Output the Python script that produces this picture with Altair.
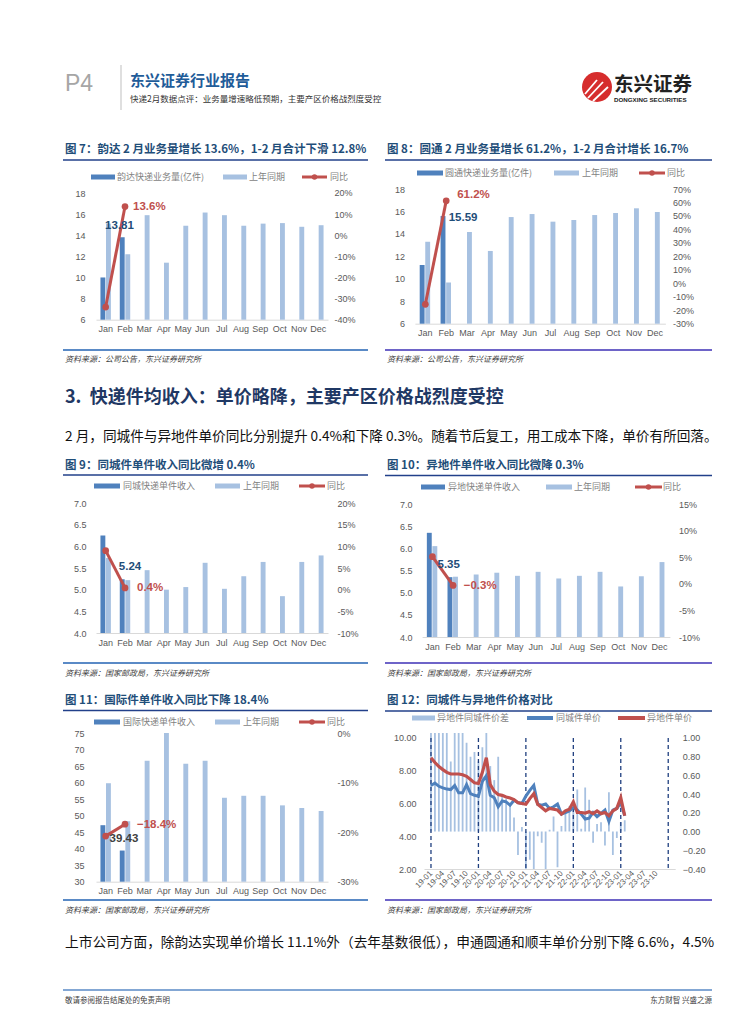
import json
import altair as alt
import pandas as pd

# ---------------- data ----------------
MONTHS = ["Jan", "Feb", "Mar", "Apr", "May", "Jun", "Jul", "Aug", "Sep", "Oct", "Nov", "Dec"]

# Fig 7: Yunda volume (100m parcels)
c7_cur = [10.0, 13.81]
c7_prev = [15.1, 12.2, 15.9, 11.4, 14.9, 16.15, 15.9, 14.9, 15.1, 15.15, 14.8, 14.95]
c7_yoy = [-34.0, 13.6]
# Fig 8: YTO volume
c8_cur = [11.23, 15.59]
c8_prev = [13.3, 9.67, 14.17, 12.48, 15.5, 15.77, 15.09, 15.24, 15.68, 15.86, 16.28, 15.95]
c8_yoy = [-15.6, 61.2]
# Fig 9: intra-city unit revenue
c9_cur = [6.25, 5.24]
c9_prev = [5.73, 5.22, 5.45, 5.0, 5.06, 5.62, 5.02, 5.31, 5.64, 4.85, 5.64, 5.79]
c9_yoy = [9.0, 0.4]
# Fig 10: inter-city unit revenue
c10_cur = [6.35, 5.35]
c10_prev = [6.05, 5.36, 5.41, 5.45, 5.38, 5.47, 5.32, 5.38, 5.47, 5.14, 5.37, 5.69]
c10_yoy = [5.1, -0.3]
# Fig 11: international unit revenue
c11_cur = [47.1, 39.43]
c11_prev = [59.8, 48.3, 66.6, 75.0, 65.7, 66.6, 55.4, 56.0, 56.0, 53.1, 52.3, 51.4]
c11_yoy = [-20.8, -18.4]

# Fig 12: monthly 2019-01 .. 2023-02
c12_ticks = ["19-01", "19-04", "19-07", "19-10", "20-01", "20-04", "20-07", "20-10",
             "21-01", "21-04", "21-07", "21-10", "22-01", "22-04", "22-07", "22-10",
             "23-01", "23-04", "23-07", "23-10"]
c12_year_marks = [0, 12, 24, 36, 48, 60]
c12_same = [7.1, 7.25, 7.05, 6.95, 6.88, 6.85, 7.1, 6.65, 6.65, 7.15, 6.6, 6.5,
            6.45, 7.35, 7.7, 6.5, 6.35, 5.8, 6.15, 6.1, 5.9, 6.2, 6.05, 6.0,
            6.45, 6.8, 7.1, 5.95, 5.9, 5.97, 5.7, 5.8, 5.97, 5.35, 5.45, 5.55,
            5.75, 5.6, 5.35, 5.05, 5.1, 5.45, 5.2, 5.4, 5.6, 4.9, 5.6, 5.7,
            6.05, 5.25]
c12_diff = [8.8, 8.5, 8.25, 8.07, 7.9, 7.8, 7.8, 7.8, 7.76, 7.66, 7.46, 7.26,
            7.22, 7.9, 8.8, 7.15, 6.75, 6.55, 6.5, 6.4, 6.34, 6.24, 6.05, 6.0,
            5.95, 6.3, 6.6, 5.95, 5.76, 5.56, 5.7, 5.65, 5.6, 5.35, 5.55, 5.65,
            6.1, 5.45, 5.45, 5.42, 5.5, 5.38, 5.55, 5.38, 5.45, 5.25, 5.55, 5.7,
            6.35, 5.25]
c12_gap = [1.7, 1.25, 1.2, 1.15, 1.1, 0.75, 1.15, 1.15, 1.1, 0.95, 0.8, 0.85,
           0.75, 0.9, 1.1, 0.7, 0.55, 0.8, 0.4, 0.35, 0.3, 0.15, -0.25, 0.05,
           -0.45, -0.3, -0.5, -0.05, -0.12, -0.4, 0.02, 0.16, -0.38, 0.06, 0.2, 0.27,
           0.3, 0.45, 0.03, 0.47, 0.34, -0.12, 0.08, 0.1, -0.15, 0.42, -0.25, -0.07,
           0.1, 0.12]

# ---------------- style ----------------
DARK = "#4F81BD"
LIGHT = "#A7C1E1"
RED = "#C0504D"
LBLUE = "#1F4E79"
NAVY = "#22408A"
STEEL = "#5A8AC6"
PURPLE = "#6E64C8"
AXF = "Liberation Sans"
CJK = "Noto Sans CJK SC"
OX, OY = 96.0, 8.0


def axis_x():
    return alt.Axis(title=None, labelAngle=0, labelFont=AXF, labelFontSize=9, labelColor="#595959",
                    labelPadding=5, ticks=False, tickSize=0, grid=False, domain=True,
                    domainColor="#D9D9D9", domainWidth=1, labelOverlap=False)


def axis_y(orient, values, fmt=None, expr=None, pad=8):
    kw = dict(title=None, orient=orient, values=values, labelFont=AXF, labelFontSize=9,
              labelColor="#595959", labelPadding=pad, ticks=False, tickSize=0, grid=False,
              domain=False, labelOverlap=False)
    if fmt:
        kw["format"] = fmt
    if expr:
        kw["labelExpr"] = expr
    return alt.Axis(**kw)


def bar_line(cur, prev, yoy, w, h, ydom, yvals, yfmt, rdom, rvals, lpad, rpad,
             bdx, bdy, balign, bcolor, ydx, ydy, xrange=None):
    rows = []
    for i, m in enumerate(MONTHS):
        if i < len(cur):
            rows.append({"month": m, "series": "cur", "value": cur[i]})
        rows.append({"month": m, "series": "prev", "value": prev[i]})
    bdf = pd.DataFrame(rows)
    ldf = pd.DataFrame({"month": MONTHS[:len(yoy)], "yoy": yoy})
    fb = pd.DataFrame({"month": [MONTHS[1]], "value": [cur[1]]})
    fy = pd.DataFrame({"month": [MONTHS[1]], "yoy": [yoy[1]]})
    skw = dict(domain=MONTHS, paddingInner=0.46, paddingOuter=0.23)
    if xrange is not None:
        skw["range"] = xrange
    xs = alt.X("month:N", scale=alt.Scale(**skw), axis=axis_x())
    ysc = alt.Scale(domain=ydom, nice=False, zero=False)
    rsc = alt.Scale(domain=rdom, nice=False, zero=False)
    bars = alt.Chart(bdf).mark_bar().encode(
        x=xs,
        xOffset=alt.XOffset("series:N", scale=alt.Scale(domain=["cur", "prev"], paddingInner=0.12, paddingOuter=0)),
        y=alt.Y("value:Q", scale=ysc, axis=axis_y("left", yvals, fmt=yfmt, pad=lpad)),
        y2=alt.datum(ydom[0]),
        color=alt.Color("series:N", scale=alt.Scale(domain=["cur", "prev"], range=[DARK, LIGHT]), legend=None),
    )
    line = alt.Chart(ldf).mark_line(
        color=RED, strokeWidth=3,
        point=alt.OverlayMarkDef(filled=True, size=45, color=RED, opacity=1),
    ).encode(
        x=xs,
        y=alt.Y("yoy:Q", scale=rsc, axis=axis_y("right", rvals, expr="datum.value + '%'", pad=rpad)),
    )
    blab = alt.Chart(fb).mark_text(font=AXF, fontWeight="bold", fontSize=11.5, color=bcolor,
                                   align=balign, baseline="middle", dx=bdx, dy=bdy).encode(
        x=xs, y=alt.Y("value:Q", scale=ysc, axis=None), text=alt.Text("value:Q", format=".2f"))
    ylab = alt.Chart(fy).transform_calculate(lab="format(datum.yoy, '.1f') + '%'").mark_text(
        font=AXF, fontWeight="bold", fontSize=11.5, color=RED, align="left", baseline="middle",
        dx=ydx, dy=ydy).encode(x=xs, y=alt.Y("yoy:Q", scale=rsc, axis=None), text="lab:N")
    return alt.layer(bars, line, blab, ylab).resolve_scale(y="independent").properties(width=w, height=h)


def empty(w, h):
    return alt.Chart(pd.DataFrame({"a": [0]})).mark_point(opacity=0).encode(
        x=alt.value(0), y=alt.value(0)).properties(width=w, height=h)


# ---------------- charts ----------------
c7 = bar_line(c7_cur, c7_prev, c7_yoy, 232, 130.7, [6, 18.379], [6, 8, 10, 12, 14, 16, 18], None,
              [-40, 21.894], [-40, -30, -20, -10, 0, 10, 20], 11, 6, -5.5, -11, "center", LBLUE, 8, 0)
# right column cells start at page x 423.6; shift plot areas with explicit ranges
c8 = bar_line(c8_cur, c8_prev, c8_yoy, 241.4, 134.7, [6, 18], [6, 8, 10, 12, 14, 16, 18], None,
              [-30, 70], [-30, -20, -10, 0, 10, 20, 30, 40, 50, 60, 70], 19.6, 7, 2.5, 2, "left", LBLUE, 11, -6,
              xrange=[-9.1, 241.4])
c9 = bar_line(c9_cur, c9_prev, c9_yoy, 232, 130, [4, 7], [4.0, 4.5, 5.0, 5.5, 6.0, 6.5, 7.0], ".1f",
              [-10, 20], [-10, -5, 0, 5, 10, 15, 20], 10, 9, 5, -12, "center", LBLUE, 12, 0)
c10 = bar_line(c10_cur, c10_prev, c10_yoy, 245.9, 134, [4, 7.0226], [4.0, 4.5, 5.0, 5.5, 6.0, 6.5, 7.0], ".1f",
               [-10, 15.188], [-10, -5, 0, 5, 10, 15], 11.9, 8.5, -4.4, -12, "center", LBLUE, 10.6, 1,
               xrange=[-1.9, 245.9])
c11 = bar_line(c11_cur, c11_prev, c11_yoy, 232, 148.7, [30, 75], [30, 35, 40, 45, 50, 55, 60, 65, 70, 75], None,
               [-30, 0], [-30, -20, -10, 0], 12, 9, -1, -12, "center", "#404040", 12, 1)

# Fig 12
df12 = pd.DataFrame({"m": list(range(len(c12_same))), "same": c12_same, "diff": c12_diff, "gap": c12_gap})
yr12 = pd.DataFrame({"m": c12_year_marks})
lexpr = json.dumps(c12_ticks) + "[datum.value / 3]"
x12 = alt.X("m:Q", scale=alt.Scale(domain=[-0.5, 60.5], nice=False, zero=False),
            axis=alt.Axis(title=None, values=list(range(0, 60, 3)), labelExpr=lexpr, labelAngle=315,
                          labelAlign="right", labelBaseline="middle", labelFont=AXF, labelFontSize=8,
                          labelColor="#595959", labelPadding=3, ticks=False, tickSize=0, grid=False,
                          domain=True, domainColor="#D9D9D9", labelOverlap=False, labelFlush=False))
lsc12 = alt.Scale(domain=[2, 10.305], nice=False, zero=False)
rsc12 = alt.Scale(domain=[-0.4, 1.0534], nice=False, zero=False)
bars12 = alt.Chart(df12).mark_bar(width=1.8, clip=True, color=LIGHT).encode(
    x=x12,
    y=alt.Y("gap:Q", scale=rsc12, axis=axis_y("right", [-0.4, -0.2, 0.0, 0.2, 0.4, 0.6, 0.8, 1.0], fmt=".2f", pad=7)),
    y2=alt.datum(0),
)
rules12 = alt.Chart(yr12).mark_rule(color="#1F3F7F", strokeWidth=1.3, strokeDash=[4, 3]).encode(
    x=x12, y=alt.YDatum(10, scale=lsc12, axis=None), y2=alt.Y2Datum(2))
blue12 = alt.Chart(df12).mark_line(color=DARK, strokeWidth=3).encode(
    x=x12, y=alt.Y("same:Q", scale=lsc12, axis=axis_y("left", [2, 4, 6, 8, 10], fmt=".2f", pad=8)))
red12 = alt.Chart(df12).mark_line(color=RED, strokeWidth=3.2).encode(
    x=x12, y=alt.Y("diff:Q", scale=lsc12, axis=None))
c12 = alt.layer(bars12, rules12, blue12, red12).resolve_scale(y="independent").properties(width=251.2, height=136)


# ---------------- page decorations (page pixel coords) ----------------
def T(x, y, t, s, c):
    return {"x": x - OX, "y": y - OY, "t": t, "s": s, "c": c}


def R(x1, x2, y1, y2, c, w):
    return {"x": x1 - OX, "x2": x2 - OX, "y": y1 - OY, "y2": y2 - OY, "c": c, "w": w}


def P(x, y, s, c):
    return {"x": x - OX, "y": y - OY, "s": s, "c": c}


titles = [
    (65, 147, "图 7：韵达 2 月业务量增长 13.6%，1-2 月合计下滑 12.8%"),
    (387, 147, "图 8：圆通 2 月业务量增长 61.2%，1-2 月合计增长 16.7%"),
    (65, 462.5, "图 9：同城件单件收入同比微增 0.4%"),
    (387, 462.5, "图 10：异地件单件收入同比微降 0.3%"),
    (65, 698, "图 11：国际件单件收入同比下降 18.4%"),
    (387, 698, "图 12：同城件与异地件价格对比"),
]
bold_items = [T(130, 78, "东兴证券行业报告", 15, "#1F5C99"),
              T(614, 82, "东兴证券", 19.5, "#222222"),
              T(65, 395, "3.\u00a0\u00a0快递件均收入：单价略降，主要产区价格战烈度受控", 18, "#1F3864")]
bold_items += [T(x, y, t, 11.5, LBLUE) for x, y, t in titles]

LG = "#7F7F7F"
legend_txt = [
    (117, 174, "韵达快递业务量(亿件)"), (249, 174, "上年同期"), (330, 174, "同比"),
    (445, 170, "圆通快递业务量(亿件)"), (582, 170, "上年同期"), (667, 170, "同比"),
    (123, 483, "同城快递单件收入"), (243, 483, "上年同期"), (327, 483, "同比"),
    (448, 484, "异地快递单件收入"), (574, 484, "上年同期"), (663, 484, "同比"),
    (123, 719, "国际快递单件收入"), (243, 719, "上年同期"), (327, 719, "同比"),
    (437, 715, "异地件同城件价差"), (556, 715, "同城件单价"), (647, 715, "异地件单价"),
]
normal_items = [T(130, 96, "快递2月数据点评：业务量增速略低预期，主要产区价格战烈度受控", 8.5, "#333333"),
                T(65, 434, "2 月，同城件与异地件单价同比分别提升 0.4%和下降 0.3%。随着节后复工，用工成本下降，单价有所回落。", 13.65, "#111111"),
                T(65, 940, "上市公司方面，除韵达实现单价增长 11.1%外（去年基数很低），申通圆通和顺丰单价分别下降 6.6%，4.5%", 13.7, "#111111"),
                T(65, 998, "敬请参阅报告结尾处的免责声明", 7.5, "#404040")]
normal_items += [T(x, y, t, 9, LG) for x, y, t in legend_txt]

src1 = "资料来源：公司公告，东兴证券研究所"
src2 = "资料来源：国家邮政局，东兴证券研究所"
italic_items = [T(65, 357, src1, 8, "#404040"), T(387, 357, src1, 8, "#404040"),
                T(65, 671, src2, 8, "#404040"), T(387, 671, src2, 8, "#404040"),
                T(65, 908, src2, 8, "#404040"), T(387, 908, src2, 8, "#404040")]
right_items = [T(712, 998, "东方财智 兴盛之源", 7.5, "#404040")]
p4_items = [T(65, 81, "P4", 23, "#A6A6A6")]
latin_bold_items = [T(614, 97, "DONGXING SECURITIES", 6.2, "#222222")]

rules = [
    R(8.5, 16, 8.5, 8.5, "#FFFFFF", 1),
    R(121, 121, 62, 107, "#BFBFBF", 1),
    R(63, 368, 157, 157, NAVY, 1.5), R(385, 712, 157, 157, NAVY, 1.5),
    R(63, 368, 472, 472, NAVY, 1.5), R(385, 712, 472.5, 472.5, NAVY, 1.5),
    R(63, 368, 707.5, 707.5, NAVY, 1.5), R(385, 712, 708, 708, NAVY, 1.5),
    R(63, 368, 347, 347, STEEL, 2), R(385, 712, 347, 347, PURPLE, 2),
    R(63, 368, 660, 660, STEEL, 2), R(385, 712, 660, 660, PURPLE, 2),
    R(63, 368, 897, 897, STEEL, 2), R(385, 712, 897, 897, PURPLE, 2),
    R(63, 712, 987, 987, STEEL, 1.5),
    # legend swatches
    R(91, 115, 174, 174, DARK, 5), R(223, 247, 174, 174, LIGHT, 5), R(302, 327, 174, 174, RED, 3),
    R(417, 443, 170, 170, DARK, 5), R(554, 579, 170, 170, LIGHT, 5), R(639, 665, 170, 170, RED, 3),
    R(94, 120, 483, 483, DARK, 5), R(215, 240, 483, 483, LIGHT, 5), R(299, 325, 483, 483, RED, 3),
    R(421, 445, 484, 484, DARK, 5), R(546, 572, 484, 484, LIGHT, 5), R(635, 662, 484, 484, RED, 3),
    R(94, 120, 719, 719, DARK, 5), R(215, 240, 719, 719, LIGHT, 5), R(299, 325, 719, 719, RED, 3),
    R(412, 435, 715, 715, LIGHT, 5), R(527, 553, 715, 715, DARK, 4), R(618, 645, 715, 715, RED, 4),
]
logo_rules = [R(585, 597, 91, 77, "#FFFFFF", 1.8), R(588, 603, 95, 79, "#FFFFFF", 1.8),
              R(593, 608, 98, 84, "#FFFFFF", 1.8)]
points = [P(597, 84, 900, "#D62D2D"),
          P(314.5, 174, 30, RED), P(652, 170, 30, RED), P(312, 483, 30, RED),
          P(648.5, 484, 30, RED), P(312, 719, 30, RED)]


def text_layer(items, font, weight, style, align):
    return alt.Chart(pd.DataFrame(items)).mark_text(
        font=font, fontWeight=weight, fontStyle=style, align=align, baseline="middle").encode(
        x=alt.X("x:Q", scale=None, axis=None), y=alt.Y("y:Q", scale=None, axis=None),
        text="t:N", size=alt.Size("s:Q", scale=None), color=alt.Color("c:N", scale=None))


def rule_layer(items):
    return alt.Chart(pd.DataFrame(items)).mark_rule().encode(
        x=alt.X("x:Q", scale=None, axis=None), x2="x2:Q",
        y=alt.Y("y:Q", scale=None, axis=None), y2="y2:Q",
        color=alt.Color("c:N", scale=None), strokeWidth=alt.StrokeWidth("w:Q", scale=None))


pt_layer = alt.Chart(pd.DataFrame(points)).mark_point(filled=True, opacity=1, shape="circle").encode(
    x=alt.X("x:Q", scale=None, axis=None), y=alt.Y("y:Q", scale=None, axis=None),
    size=alt.Size("s:Q", scale=None), color=alt.Color("c:N", scale=None))

header = alt.layer(
    rule_layer(rules), pt_layer, rule_layer(logo_rules),
    text_layer(bold_items, CJK, "bold", "normal", "left"),
    text_layer(normal_items, CJK, "normal", "normal", "left"),
    text_layer(italic_items, CJK, "normal", "italic", "left"),
    text_layer(right_items, CJK, "normal", "normal", "right"),
    text_layer(p4_items, AXF, "normal", "normal", "left"),
    text_layer(latin_bold_items, AXF, "bold", "normal", "left"),
).properties(width=232, height=178)

cells = [
    header, empty(1, 1), empty(1, 1),
    c7, empty(95.6, 1), c8,
    empty(1, 178.3), empty(1, 1), empty(1, 1),
    c9, empty(95.6, 1), c10,
    empty(1, 96), empty(1, 1), empty(1, 1),
    c11, empty(95.6, 1), c12,
]

chart = alt.ConcatChart(concat=cells, columns=3, align={"row": "each", "column": "each"},
                        bounds="flush", spacing=0, padding=0, background="white").configure_view(stroke=None)

chart.save("out.html", embed_options={"renderer": "svg", "actions": False})
